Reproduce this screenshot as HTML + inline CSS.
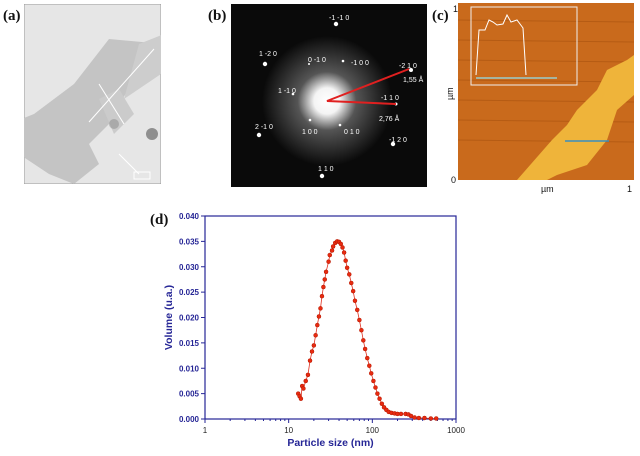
<!DOCTYPE html>
<html><head><meta charset="utf-8"><style>
body{margin:0;width:640px;height:456px;background:#fff;overflow:hidden;position:relative;font-family:"Liberation Serif",serif}
.lbl{position:absolute;font-weight:bold;font-size:15px;color:#111}
.panel{position:absolute}
</style></head><body>
<div class="lbl" style="left:3px;top:8px">(a)</div>
<div class="lbl" style="left:208px;top:8px">(b)</div>
<div class="lbl" style="left:432px;top:8px">(c)</div>
<div class="lbl" style="left:150px;top:212px">(d)</div>

<svg class="panel" style="left:24px;top:4px" width="137" height="180" viewBox="0 0 137 180">
<rect width="137" height="180" fill="#e6e6e6" stroke="#999"/>
<polygon points="10,110 50,80 85,35 140,40 115,70 95,100 85,120 65,140 75,160 50,180 25,170 -5,150 -15,120" fill="#c4c4c4"/>
<polygon points="115,40 140,30 137,70 100,95" fill="#cdcdcd"/>
<polygon points="75,95 95,85 110,110 90,130" fill="#cbcbcb"/>
<circle cx="128" cy="130" r="6" fill="#555" opacity="0.6"/>
<circle cx="90" cy="120" r="5" fill="#777" opacity="0.4"/>
<g stroke="#fff" stroke-width="1"><line x1="65" y1="118" x2="130" y2="45"/><line x1="75" y1="80" x2="100" y2="120"/><line x1="95" y1="150" x2="115" y2="170"/></g>
<rect x="110" y="168" width="16" height="7" fill="none" stroke="#fff"/>
</svg>

<svg class="panel" style="left:231px;top:4px" width="196" height="183" viewBox="0 0 196 183">
<defs><radialGradient id="g"><stop offset="0" stop-color="#fff"/><stop offset="0.2" stop-color="#f4f4f4"/><stop offset="0.45" stop-color="#555"/><stop offset="1" stop-color="#0a0a0a"/></radialGradient></defs>
<rect width="196" height="183" fill="#0a0a0a"/>
<circle cx="96" cy="97" r="65" fill="url(#g)"/>
<g fill="#fff"><circle cx="105" cy="20" r="2.2"/><circle cx="34" cy="60" r="2.2"/><circle cx="180" cy="66" r="2"/><circle cx="28" cy="131" r="2.2"/><circle cx="162" cy="140" r="2.2"/><circle cx="91" cy="172" r="2.2"/><circle cx="165" cy="100" r="1.5"/><circle cx="79" cy="116" r="1.3"/><circle cx="109" cy="121" r="1.3"/><circle cx="112" cy="57" r="1.3"/><circle cx="62" cy="90" r="1.3"/><circle cx="78" cy="60" r="1"/></g>
<polyline points="178,65 96,97 165,100" fill="none" stroke="#e02020" stroke-width="2"/>
<g fill="#fff" font-family="Liberation Sans" font-size="7"><text x="98" y="16">-1 -1 0</text><text x="28" y="52">1 -2 0</text><text x="77" y="58">0 -1 0</text><text x="120" y="61">-1 0 0</text><text x="168" y="64">-2 1 0</text><text x="172" y="78">1,55 Å</text><text x="47" y="89">1 -1 0</text><text x="150" y="96">-1 1 0</text><text x="148" y="117">2,76 Å</text><text x="24" y="125">2 -1 0</text><text x="71" y="130">1 0 0</text><text x="113" y="130">0 1 0</text><text x="158" y="138">-1 2 0</text><text x="87" y="167">1 1 0</text></g>
</svg>

<svg class="panel" style="left:447px;top:0" width="193" height="195" viewBox="0 0 193 195">
<rect x="11" y="3" width="176" height="177" fill="#c96a1c"/>
<g stroke="#a8520f" stroke-width="1" opacity="0.6"><line x1="11" y1="20" x2="187" y2="22"/><line x1="11" y1="40" x2="187" y2="42"/><line x1="11" y1="60" x2="187" y2="62"/><line x1="11" y1="80" x2="187" y2="82"/><line x1="11" y1="100" x2="187" y2="102"/><line x1="11" y1="120" x2="187" y2="122"/><line x1="11" y1="140" x2="187" y2="142"/></g>
<polygon points="70,180 105,140 120,125 130,110 150,90 160,70 180,60 187,55 187,95 170,110 160,140 140,165 110,175 100,180" fill="#efb43a"/>
<rect x="24" y="7" width="106" height="78" fill="none" stroke="#eee"/>
<polyline points="29,75 32,30 38,30 42,20 46,22 50,25 56,24 60,15 64,22 70,20 76,28 79,75" fill="none" stroke="#fff"/>
<line x1="29" y1="78" x2="110" y2="78" stroke="#9cc" stroke-width="1.5"/>
<line x1="118" y1="141" x2="162" y2="141" stroke="#3a8fc0" stroke-width="1.5"/>
<g font-family="Liberation Sans" font-size="9" fill="#111"><text x="4" y="183">0</text><text x="6" y="12">1</text><text x="94" y="192">µm</text><text x="180" y="192">1</text><text x="6" y="100" transform="rotate(-90 6 100)">µm</text></g>
</svg>

<svg id="chart" style="position:absolute;left:0;top:0" width="640" height="456"></svg>
<script>
const xVals=[13,13.5,14,14.5,15,16,17,18,19,20,21,22,23,24,25,26,27,28,30,31,33,34,36,38,40,42,44,46,48,50,53,56,59,62,66,70,74,78,82,87,92,97,103,109,115,122,130,138,147,157,170,185,200,220,250,270,290,320,360,420,500,580];
const yVals=[0.005,0.0045,0.004,0.0065,0.006,0.0075,0.0087,0.0115,0.0133,0.0145,0.0165,0.0185,0.0202,0.0218,0.0242,0.026,0.0275,0.029,0.031,0.0323,0.0332,0.034,0.0347,0.035,0.0349,0.0345,0.0338,0.0328,0.0312,0.0298,0.0285,0.0268,0.0252,0.0233,0.0215,0.0195,0.0175,0.0155,0.0138,0.012,0.0105,0.009,0.0075,0.0062,0.005,0.004,0.003,0.0023,0.0018,0.0014,0.0012,0.0011,0.001,0.001,0.001,0.0009,0.0006,0.0003,0.0002,0.0002,0.0001,0.0001];
const yTicks=[0,0.005,0.010,0.015,0.020,0.025,0.030,0.035,0.040];
const xTicks=[1,10,100,1000];
const L=205,R=456,T=216,B=419,NS="http://www.w3.org/2000/svg";
const xs=v=>L+(Math.log10(v))/3*(R-L);
const ys=v=>B-v/0.04*(B-T);
const svg=document.getElementById('chart');
function mk(t,a,p){const e=document.createElementNS(NS,t);for(const k in a)e.setAttribute(k,a[k]);(p||svg).appendChild(e);return e;}
const C="#262696";
const frame=mk('rect',{x:L,y:T,width:R-L,height:B-T,fill:'none',stroke:C,'stroke-width':1.2});


yTicks.forEach(t=>{const y=ys(t);mk('line',{x1:L,x2:L-4,y1:y,y2:y,stroke:C});
const tx=mk('text',{x:L-6,y:y+3,'text-anchor':'end','font-family':'Liberation Sans','font-size':8,'font-weight':'bold',fill:C});tx.textContent=t.toFixed(3);

});
for(let d=0;d<3;d++)for(let m=2;m<10;m++){const x=xs(Math.pow(10,d)*m);mk('line',{x1:x,x2:x,y1:B,y2:B+2,stroke:C});}
xTicks.forEach(t=>{const x=xs(t);mk('line',{x1:x,x2:x,y1:B,y2:B+4,stroke:C});
const tx=mk('text',{x:x,y:B+14,'text-anchor':'middle','font-family':'Liberation Sans','font-size':8,fill:'#222'});tx.textContent=t;

});
const xt=mk('text',{x:(L+R)/2,y:446,'text-anchor':'middle','font-family':'Liberation Sans','font-size':10.5,'font-weight':'bold',fill:C});xt.textContent='Particle size (nm)';


const yt=mk('text',{x:0,y:0,'text-anchor':'middle','font-family':'Liberation Sans','font-size':10.5,'font-weight':'bold',fill:C,transform:`translate(172,${(T+B)/2}) rotate(-90)`});yt.textContent='Volume (u.a.)';


const line=mk('polyline',{points:xVals.map((v,i)=>xs(v)+','+ys(yVals[i])).join(' '),fill:'none',stroke:'#e03020','stroke-width':0.8});


xVals.forEach((v,i)=>{const c=mk('circle',{cx:xs(v),cy:ys(yVals[i]),r:2,fill:'#e82a10',stroke:'#b01800','stroke-width':0.5});

});
</script>
</body></html>
